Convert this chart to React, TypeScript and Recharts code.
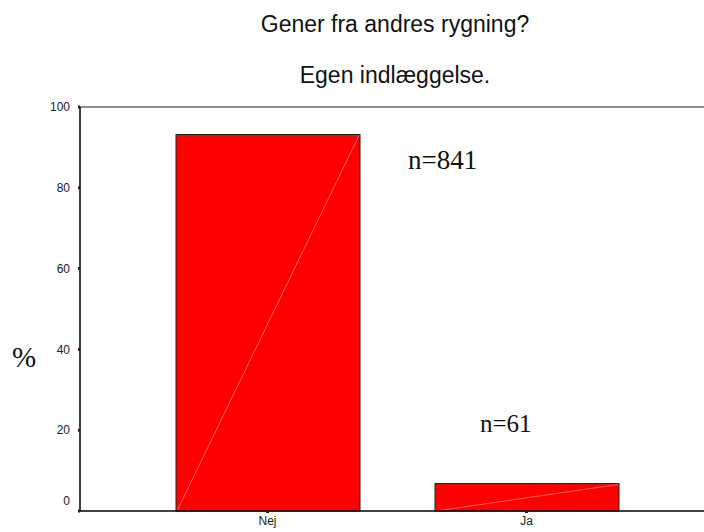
import { Bar, BarChart, ReferenceLine, XAxis, YAxis } from "recharts";

const categories = ["Nej", "Ja"];
const percents = [93.2, 6.8];
const counts = [841, 61];
const yTicks = [0, 20, 40, 60, 80, 100];

const data = categories.map((name, i) => ({ name, pct: percents[i], n: counts[i] }));

const sans = "Arial, 'Liberation Sans', sans-serif";
const serif = "'Times New Roman', 'Liberation Serif', serif";

const DiagonalBar = (props: any) => {
  const { x, y, width, height } = props;
  return (
    <g>
      <rect x={x} y={y} width={width} height={height} fill="#FF0000" stroke="#222" strokeWidth={1} />
      <line x1={x + 1} y1={y + height} x2={x + width - 1} y2={y + 1} stroke="#FF8A8A" strokeWidth={0.7} />
    </g>
  );
};

// SPSS puts the "0" label a bit above its tick
const YTick = ({ x, y, payload }: any) => (
  <text
    x={x}
    y={payload.value === 0 ? y - 10 : y}
    dy="0.35em"
    textAnchor="end"
    fontSize={12}
    fill="#222"
    fontFamily={sans}
  >
    {payload.value}
  </text>
);

const App = () => (
  <div style={{ position: "absolute", left: 0, top: 0, width: 704, height: 532, background: "#fff" }}>
    <BarChart
      width={704}
      height={532}
      data={data}
      margin={{ top: 107, right: 0, bottom: 0, left: 0 }}
      barCategoryGap={0}
    >
      <ReferenceLine y={100} stroke="#666" strokeWidth={1.5} />
      <XAxis
        dataKey="name"
        height={21}
        padding={{ left: 58, right: 48 }}
        axisLine={{ stroke: "#000", strokeWidth: 1.5 }}
        tickLine={{ stroke: "#222", strokeWidth: 3 }}
        tickSize={2}
        tickMargin={3}
        tick={{ fontSize: 12, fill: "#222", fontFamily: sans }}
      />
      <YAxis
        type="number"
        domain={[0, 100]}
        ticks={yTicks}
        width={80}
        axisLine={{ stroke: "#000", strokeWidth: 1.5 }}
        tickLine={{ stroke: "#222", strokeWidth: 3 }}
        tickSize={2}
        tickMargin={8}
        tick={YTick}
      />
      <Bar dataKey="pct" barSize={184} shape={DiagonalBar} isAnimationActive={false} />
    </BarChart>
    <div style={{ position: "absolute", left: 0, width: 790, top: 11, textAlign: "center", fontFamily: sans, fontSize: 23, color: "#111" }}>
      Gener fra andres rygning?
    </div>
    <div style={{ position: "absolute", left: 0, width: 790, top: 62, textAlign: "center", fontFamily: sans, fontSize: 23, color: "#111" }}>
      Egen indlæggelse.
    </div>
    <div style={{ position: "absolute", left: 12, top: 341, fontFamily: serif, fontSize: 29, color: "#111" }}>%</div>
    <div style={{ position: "absolute", left: 408, top: 145, fontFamily: serif, fontSize: 27, color: "#111" }}>
      n={counts[0]}
    </div>
    <div style={{ position: "absolute", left: 480, top: 410, fontFamily: serif, fontSize: 25, color: "#111" }}>
      n={counts[1]}
    </div>
  </div>
);

export default App;
